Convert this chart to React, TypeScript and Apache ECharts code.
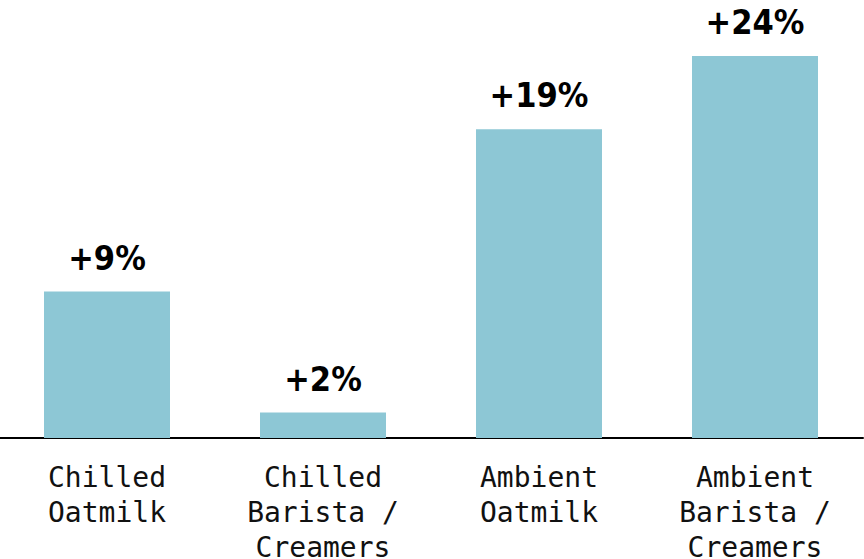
import React, { useEffect, useRef } from "react";
import * as echarts from "echarts";

const categories = ["Chilled\nOatmilk", "Chilled\nBarista /\nCreamers", "Ambient\nOatmilk", "Ambient\nBarista /\nCreamers"];
const values = [9.2, 1.6, 19.4, 24];
const valueLabels = ["+9%", "+2%", "+19%", "+24%"];

export default function App() {
  const ref = useRef<HTMLDivElement>(null);
  useEffect(() => {
    document.body.style.margin = "0";
    const chart = echarts.init(ref.current!, null, { renderer: "svg" });
    chart.setOption({
      animation: false,
      backgroundColor: "#ffffff",
      grid: { left: -1, right: 1, top: 56, bottom: 121, containLabel: false, outerBoundsMode: "none" },
      xAxis: {
        type: "category",
        data: categories,
        axisLine: { show: true, lineStyle: { color: "#000000", width: 2 } },
        axisTick: { show: false },
        axisLabel: {
          interval: 0,
          margin: 22,
          color: "#111111",
          fontFamily: "DejaVu Sans Mono, Liberation Mono, monospace",
          fontSize: 28,
          lineHeight: 35,
        },
      },
      yAxis: {
        type: "value",
        min: 0,
        max: 24,
        show: false,
        splitLine: { show: false },
      },
      series: [
        {
          type: "bar",
          data: values,
          barWidth: 126,
          itemStyle: { color: "#8dc7d5" },
          label: {
            show: true,
            position: "top",
            distance: 17,
            formatter: (p: any) => valueLabels[p.dataIndex],
            color: "#000000",
            fontFamily: "'DejaVu Sans Condensed', sans-serif",
            fontWeight: 900,
            fontSize: 34,
          },
        },
      ],
    });
    return () => chart.dispose();
  }, []);
  return <div ref={ref} style={{ position: "fixed", left: 0, top: 0, width: 864, height: 559 }} />;
}
